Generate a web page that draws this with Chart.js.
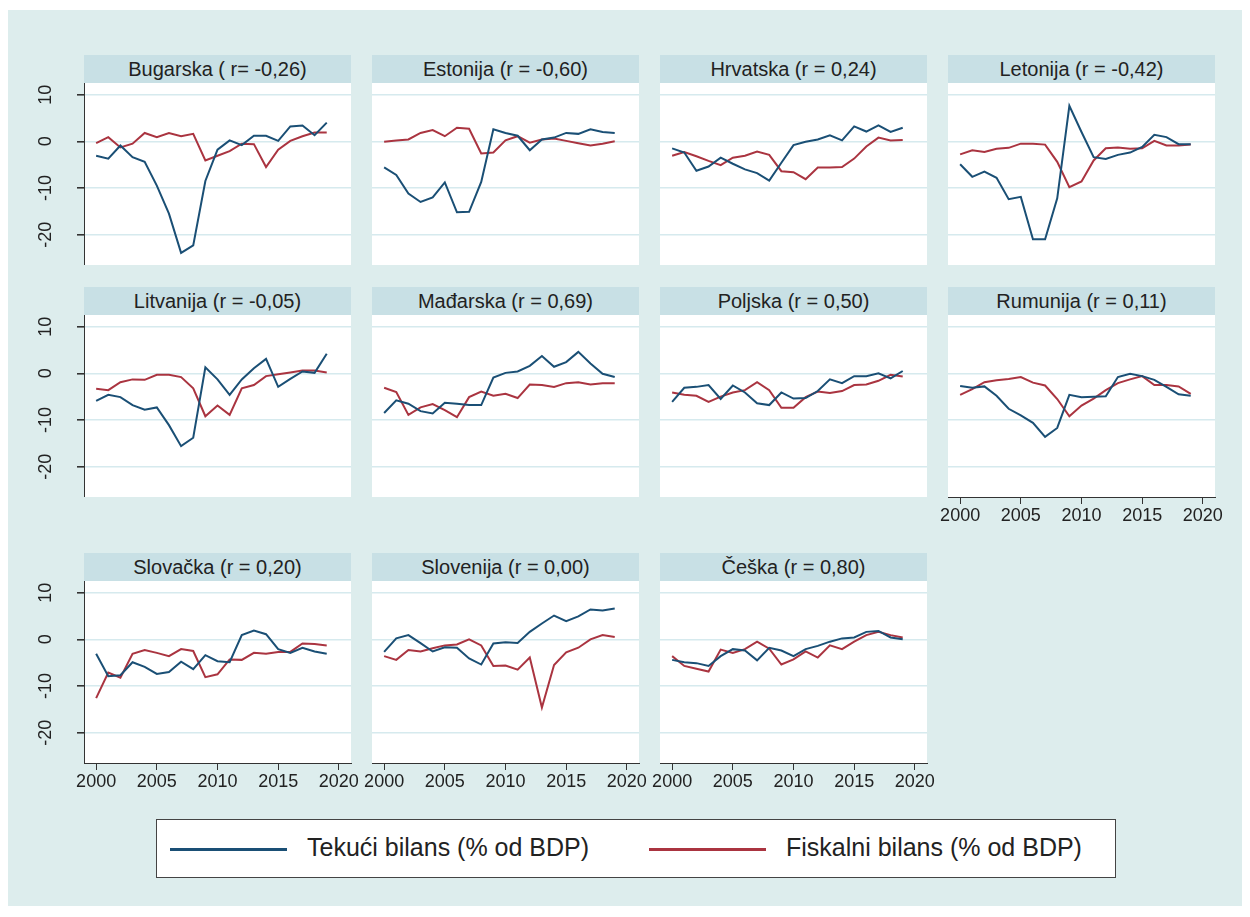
<!DOCTYPE html>
<html>
<head>
<meta charset="utf-8">
<script src="https://cdn.jsdelivr.net/npm/chart.js@4.4.1/dist/chart.umd.min.js"></script>
<style>
  body { margin: 0; width: 1250px; height: 917px; overflow: hidden; background: #fff;
         font-family: "Liberation Sans", Arial, sans-serif; position: relative; }
  #bg { position: absolute; left: 8px; top: 10px; width: 1234px; height: 896px; background: #DDEDED; }
  .ttl { position: absolute; height: 28px; line-height: 28px; text-align: center;
         background: #C8E0E5; color: #222; font-size: 20px; white-space: nowrap; }
  canvas { position: absolute; }
  #legend { position: absolute; left: 156px; top: 819px; width: 958px; height: 57px;
            background: #fff; border: 1px solid #444; }
  .key { position: absolute; top: 28px; height: 3px; width: 117px; }
  .lab { position: absolute; top: 13px; font-size: 25px; color: #222; white-space: nowrap; }
</style>
</head>
<body>
<div id="bg"></div>
<div id="legend">
  <div class="key" style="left:13px;background:#1A4F75"></div>
  <div class="lab" style="left:150px">Tekući bilans (% od BDP)</div>
  <div class="key" style="left:492px;background:#AA3440"></div>
  <div class="lab" style="left:629px">Fiskalni bilans (% od BDP)</div>
</div>
<script>
// data ...........

const years = [2000, 2001, 2002, 2003, 2004, 2005, 2006, 2007, 2008, 2009,
               2010, 2011, 2012, 2013, 2014, 2015, 2016, 2017, 2018, 2019];
const xTicks = [2000, 2005, 2010, 2015, 2020];
const yTicks = [-20, -10, 0, 10];

const titles = ['Bugarska ( r= -0,26)', 'Estonija (r = -0,60)', 'Hrvatska (r = 0,24)', 'Letonija (r = -0,42)',
                'Litvanija (r = -0,05)', 'Mađarska (r = 0,69)', 'Poljska (r = 0,50)', 'Rumunija (r = 0,11)',
                'Slovačka (r = 0,20)', 'Slovenija (r = 0,00)', 'Češka (r = 0,80)'];

// tekuci = current account, fiskalni = fiscal balance (% of GDP)
const bgTekuci   = [-3.1, -3.7, -0.9, -3.4, -4.4, -9.5, -15.5, -23.9, -22.3, -8.5, -1.8, 0.2, -0.8, 1.2, 1.2, 0.1, 3.2, 3.4, 1.3, 4.0];
const bgFiskalni = [-0.4, 0.9, -1.3, -0.5, 1.8, 0.9, 1.8, 1.1, 1.6, -4.1, -3.1, -2.1, -0.5, -0.6, -5.5, -1.8, 0.1, 1.1, 1.9, 1.9];

const eeTekuci   = [-5.6, -7.2, -11.2, -13.0, -12.0, -8.8, -15.2, -15.1, -8.7, 2.6, 1.8, 1.2, -1.9, 0.4, 0.8, 1.8, 1.6, 2.6, 2.0, 1.8];
const eeFiskalni = [-0.1, 0.2, 0.4, 1.8, 2.4, 1.1, 2.9, 2.7, -2.6, -2.4, 0.2, 1.1, -0.3, 0.4, 0.6, 0.1, -0.4, -0.9, -0.5, 0.0];

const hrTekuci   = [-1.5, -2.4, -6.3, -5.4, -3.5, -4.8, -6.0, -6.8, -8.4, -4.6, -0.8, -0.1, 0.4, 1.3, 0.2, 3.2, 2.1, 3.4, 2.0, 2.9];
const hrFiskalni = [-3.1, -2.3, -3.2, -4.2, -5.1, -3.5, -3.1, -2.2, -2.9, -6.4, -6.6, -8.1, -5.6, -5.6, -5.5, -3.7, -1.1, 0.8, 0.2, 0.3];

const lvTekuci   = [-4.9, -7.6, -6.5, -7.8, -12.4, -11.9, -21.0, -21.0, -12.2, 7.6, 2.0, -3.4, -3.8, -2.9, -2.4, -1.2, 1.4, 0.9, -0.6, -0.6];
const lvFiskalni = [-2.8, -1.9, -2.3, -1.6, -1.4, -0.5, -0.5, -0.7, -4.4, -9.8, -8.6, -4.1, -1.5, -1.3, -1.6, -1.5, 0.1, -0.9, -0.9, -0.7];

const ltTekuci   = [-5.9, -4.6, -5.1, -6.8, -7.8, -7.3, -11.1, -15.6, -13.8, 1.3, -1.3, -4.6, -1.3, 1.1, 3.1, -2.9, -1.2, 0.4, 0.1, 4.2];
const ltFiskalni = [-3.3, -3.6, -1.9, -1.3, -1.4, -0.3, -0.3, -0.8, -3.2, -9.2, -6.9, -8.9, -3.2, -2.5, -0.6, -0.2, 0.2, 0.6, 0.6, 0.2];

const huTekuci   = [-8.5, -5.8, -6.5, -8.1, -8.6, -6.3, -6.5, -6.8, -6.8, -0.9, 0.1, 0.4, 1.6, 3.7, 1.4, 2.4, 4.6, 2.1, -0.1, -0.8];
const huFiskalni = [-3.1, -4.0, -8.9, -7.3, -6.6, -7.9, -9.4, -5.1, -3.9, -4.8, -4.4, -5.3, -2.4, -2.5, -2.9, -2.1, -1.9, -2.4, -2.1, -2.1];

const plTekuci   = [-6.1, -3.1, -2.9, -2.5, -5.5, -2.6, -4.1, -6.4, -6.8, -4.1, -5.4, -5.3, -3.8, -1.3, -2.1, -0.6, -0.6, 0.0, -1.1, 0.5];
const plFiskalni = [-4.1, -4.6, -4.8, -6.1, -5.0, -4.1, -3.6, -1.9, -3.6, -7.4, -7.4, -5.1, -3.9, -4.2, -3.8, -2.5, -2.4, -1.6, -0.3, -0.7];

const roTekuci   = [-2.7, -3.1, -2.8, -4.8, -7.6, -9.0, -10.6, -13.6, -11.7, -4.6, -5.1, -5.0, -4.9, -0.8, -0.1, -0.6, -1.4, -2.9, -4.5, -4.8];
const roFiskalni = [-4.6, -3.4, -1.9, -1.5, -1.2, -0.8, -2.0, -2.6, -5.5, -9.2, -6.9, -5.4, -3.6, -2.1, -1.3, -0.6, -2.5, -2.5, -2.8, -4.4];

const skTekuci   = [-3.1, -7.9, -7.7, -4.9, -5.9, -7.4, -7.0, -4.8, -6.4, -3.4, -4.7, -4.9, 0.9, 1.9, 1.1, -2.1, -2.9, -1.8, -2.6, -3.1];
const skFiskalni = [-12.6, -7.1, -8.2, -3.1, -2.3, -2.9, -3.6, -2.1, -2.5, -8.1, -7.5, -4.3, -4.4, -2.9, -3.1, -2.7, -2.7, -0.9, -1.0, -1.3];

const siTekuci   = [-2.7, 0.2, 0.9, -0.8, -2.6, -1.7, -1.8, -4.1, -5.4, -0.9, -0.6, -0.8, 1.6, 3.4, 5.1, 3.9, 4.9, 6.4, 6.2, 6.6];
const siFiskalni = [-3.6, -4.4, -2.3, -2.6, -1.9, -1.3, -1.1, 0.0, -1.3, -5.7, -5.6, -6.5, -3.9, -14.6, -5.5, -2.8, -1.8, 0.0, 0.9, 0.5];

const czTekuci   = [-4.4, -4.9, -5.1, -5.7, -3.6, -2.1, -2.4, -4.5, -1.8, -2.4, -3.6, -2.1, -1.4, -0.5, 0.2, 0.4, 1.6, 1.8, 0.4, 0.0];
const czFiskalni = [-3.6, -5.7, -6.3, -6.9, -2.2, -2.9, -2.1, -0.5, -2.0, -5.4, -4.3, -2.6, -3.9, -1.3, -2.1, -0.5, 0.9, 1.6, 0.9, 0.4];

const tekuci   = [bgTekuci, eeTekuci, hrTekuci, lvTekuci, ltTekuci, huTekuci, plTekuci, roTekuci, skTekuci, siTekuci, czTekuci];
const fiskalni = [bgFiskalni, eeFiskalni, hrFiskalni, lvFiskalni, ltFiskalni, huFiskalni, plFiskalni, roFiskalni, skFiskalni, siFiskalni, czFiskalni];

// layout ...........

const colLeft = [84, 372, 660, 948];
const rowTop = [83, 315, 581];
const plotW = 267, plotH = 182;
const BLUE = '#1A4F75', RED = '#AA3440', GRID = '#D6EAEE', AXIS = '#333333';
const FONT = '"Liberation Sans", Arial, sans-serif';

Chart.defaults.font.family = FONT;
Chart.defaults.color = '#222';

// white plot region
const plotBg = {
    id: 'plotBg',
    beforeDraw(chart) {
        const a = chart.chartArea;
        chart.ctx.save();
        chart.ctx.fillStyle = '#fff';
        chart.ctx.fillRect(a.left, a.top, a.right - a.left, a.bottom - a.top);
        chart.ctx.restore();
    }
};

// rotated y labels like stata
const yLabels = {
    id: 'yLabels',
    afterDraw(chart) {
        const s = chart.scales.y;
        if (!chart.options.plugins.yLabels.show) return;
        const ctx = chart.ctx;
        ctx.save();
        ctx.font = '18px ' + FONT;
        ctx.fillStyle = '#222';
        ctx.textAlign = 'center';
        ctx.textBaseline = 'middle';
        for (const t of s.ticks) {
            ctx.save();
            ctx.translate(s.right - 38, s.getPixelForValue(t.value));
            ctx.rotate(-Math.PI / 2);
            ctx.fillText(String(t.value), 0, 0);
            ctx.restore();
        }
        ctx.restore();
    }
};

for (let i = 0; i < titles.length; i++) {
    const row = Math.floor(i / 4), col = i % 4;
    const showY = col === 0;
    const showX = row === 2 || (row === 1 && col === 3);
    const L = showY ? 60 : 20, R = 20, B = showX ? 40 : 0;

    // title bar
    const t = document.createElement('div');
    t.className = 'ttl';
    t.style.left = colLeft[col] + 'px';
    t.style.top = (rowTop[row] - 28) + 'px';
    t.style.width = plotW + 'px';
    t.textContent = titles[i];
    document.body.appendChild(t);

    const cv = document.createElement('canvas');
    cv.width = plotW + L + R;
    cv.height = plotH + B;
    cv.style.left = (colLeft[col] - L) + 'px';
    cv.style.top = rowTop[row] + 'px';
    document.body.appendChild(cv);

    new Chart(cv, {
        type: 'line',
        data: {
            datasets: [{
                label: 'Tekući bilans (% od BDP)',
                data: years.map((y, k) => ({x: y, y: tekuci[i][k]})),
                borderColor: BLUE,
                borderWidth: 2,
                pointRadius: 0,
                tension: 0
            }, {
                label: 'Fiskalni bilans (% od BDP)',
                data: years.map((y, k) => ({x: y, y: fiskalni[i][k]})),
                borderColor: RED,
                borderWidth: 2,
                pointRadius: 0,
                tension: 0
            }]
        },
        options: {
            responsive: false,
            animation: false,
            devicePixelRatio: 1,
            layout: { padding: { left: 0, right: R, top: 0, bottom: 0 } },
            plugins: {
                legend: { display: false },
                tooltip: { enabled: false },
                yLabels: { show: showY }
            },
            scales: {
                x: {
                    type: 'linear',
                    min: 1999,
                    max: 2021,
                    display: showX,
                    afterBuildTicks: s => { s.ticks = xTicks.map(v => ({value: v})); },
                    afterFit: s => { s.height = B; },
                    ticks: { font: { size: 18 }, padding: 1, maxRotation: 0, callback: v => String(v) },
                    grid: { drawOnChartArea: false, drawTicks: true, tickLength: 7, tickColor: AXIS, lineWidth: 1 },
                    border: { display: true, color: AXIS, width: 1 }
                },
                y: {
                    type: 'linear',
                    min: -26.5,
                    max: 12.5,
                    afterBuildTicks: s => { s.ticks = yTicks.map(v => ({value: v})); },
                    afterFit: s => { s.width = L; },
                    ticks: { display: false },
                    grid: { color: GRID, lineWidth: 1.6, drawTicks: showY, tickLength: 7, tickColor: AXIS },
                    border: { display: showY, color: AXIS, width: 1 }
                }
            }
        },
        plugins: [plotBg, yLabels]
    });
}
</script>
</body>
</html>
